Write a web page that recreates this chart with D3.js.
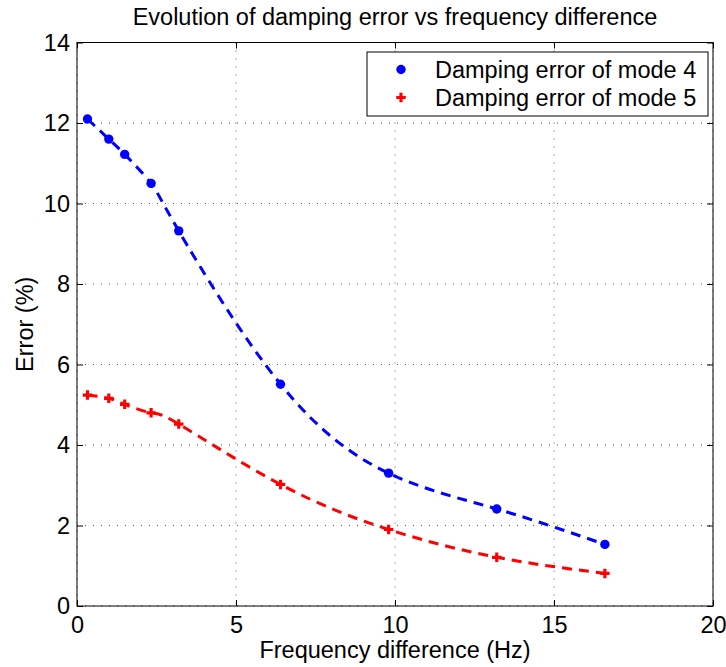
<!DOCTYPE html>
<html>
<head>
<meta charset="utf-8">
<script src="https://cdn.jsdelivr.net/npm/d3@7"></script>
<style>
  body { margin: 0; background: #fff; }
  text { font-family: "Liberation Sans", Arial, sans-serif; fill: #000; }
</style>
</head>
<body>
<svg id="chart" width="726" height="667"></svg>
<script>
// values
var freqDiff = [0.33, 1.0, 1.5, 2.33, 3.2, 6.4, 9.8, 13.2, 16.6];
var errMode4 = [12.1, 11.6, 11.22, 10.5, 9.32, 5.51, 3.3, 2.41, 1.53];
var errMode5 = [5.24, 5.16, 5.01, 4.8, 4.52, 3.02, 1.9, 1.21, 0.81];
var xTicks = [0, 5, 10, 15, 20];
var yTicks = [0, 2, 4, 6, 8, 10, 12, 14];
var seriesNames = ['Damping error of mode 4', 'Damping error of mode 5'];

var fontSize = '23.5px';

var svg = d3.select('#chart');
var margin = {top: 42.5, right: 13, bottom: 61, left: 77},
    width = 726 - margin.left - margin.right,
    height = 667 - margin.top - margin.bottom;

var g = svg.append('g')
    .attr('transform', 'translate(' + margin.left + ',' + margin.top + ')');

var x = d3.scaleLinear().domain([0, 20]).range([0, width]);
var y = d3.scaleLinear().domain([0, 14]).range([height, 0]);

// grid
g.selectAll('.gx').data(xTicks).enter().append('line')
    .attr('x1', function(d) { return x(d); }).attr('x2', function(d) { return x(d); })
    .attr('y1', 0).attr('y2', height)
    .attr('stroke', '#555').attr('stroke-width', 1).attr('stroke-dasharray', '1,7');
g.selectAll('.gy').data(yTicks).enter().append('line')
    .attr('y1', function(d) { return y(d); }).attr('y2', function(d) { return y(d); })
    .attr('x1', 0).attr('x2', width)
    .attr('stroke', '#555').attr('stroke-width', 1).attr('stroke-dasharray', '1,7');

// axes, ticks pointing inward like matlab
var tickLen = 6;
g.append('g').attr('transform', 'translate(0,' + height + ')')
    .call(d3.axisBottom(x).tickValues(xTicks).tickSizeInner(-tickLen).tickSizeOuter(0).tickPadding(10));
g.append('g')
    .call(d3.axisLeft(y).tickValues(yTicks).tickSizeInner(-tickLen).tickSizeOuter(0).tickPadding(7));
g.append('g')
    .call(d3.axisTop(x).tickValues(xTicks).tickSizeInner(-tickLen).tickSizeOuter(0).tickFormat(''));
g.append('g').attr('transform', 'translate(' + width + ',0)')
    .call(d3.axisRight(y).tickValues(yTicks).tickSizeInner(-tickLen).tickSizeOuter(0).tickFormat(''));

g.selectAll('.domain').remove();
g.selectAll('.tick line').attr('stroke', '#000');
g.selectAll('.tick text').style('font-size', fontSize).attr('fill', '#000');

g.append('rect')
    .attr('width', width).attr('height', height)
    .attr('fill', 'none').attr('stroke', '#000').attr('stroke-width', 1);

// curves
var line = d3.line().curve(d3.curveNatural)
    .x(function(d) { return x(d[0]); })
    .y(function(d) { return y(d[1]); });

var data4 = d3.zip(freqDiff, errMode4),
    data5 = d3.zip(freqDiff, errMode5);

g.append('path').datum(data4).attr('d', line)
    .attr('fill', 'none').attr('stroke', '#0000ff').attr('stroke-width', 3)
    .attr('stroke-dasharray', '10,7');
g.append('path').datum(data5).attr('d', line)
    .attr('fill', 'none').attr('stroke', '#ff0000').attr('stroke-width', 3)
    .attr('stroke-dasharray', '10,7');

g.selectAll('.dot4').data(data4).enter().append('circle')
    .attr('cx', function(d) { return x(d[0]); })
    .attr('cy', function(d) { return y(d[1]); })
    .attr('r', 4.7).attr('fill', '#0000ff');

var plus = d3.symbol().type(d3.symbolCross).size(50);
g.selectAll('.dot5').data(data5).enter().append('path')
    .attr('transform', function(d) { return 'translate(' + x(d[0]) + ',' + y(d[1]) + ')'; })
    .attr('d', plus).attr('fill', '#ff0000');

// legend
var leg = svg.append('g').attr('transform', 'translate(367,52)');
leg.append('rect').attr('width', 341).attr('height', 64)
    .attr('fill', '#fff').attr('stroke', '#000').attr('stroke-width', 1);
leg.append('circle').attr('cx', 34).attr('cy', 17.5).attr('r', 4.7).attr('fill', '#0000ff');
leg.append('path').attr('transform', 'translate(34,45.5)').attr('d', plus).attr('fill', '#ff0000');
leg.selectAll('.lt').data(seriesNames).enter().append('text')
    .attr('x', 68)
    .attr('y', function(d, i) { return 26 + i * 28; })
    .style('font-size', fontSize)
    .text(function(d) { return d; });

// titles
svg.append('text')
    .attr('x', margin.left + width / 2).attr('y', 25)
    .attr('text-anchor', 'middle').style('font-size', fontSize)
    .text('Evolution of damping error vs frequency difference');
svg.append('text')
    .attr('x', margin.left + width / 2).attr('y', 658)
    .attr('text-anchor', 'middle').style('font-size', fontSize)
    .text('Frequency difference (Hz)');
svg.append('text')
    .attr('transform', 'translate(33,' + (margin.top + height / 2) + ') rotate(-90)')
    .attr('text-anchor', 'middle').style('font-size', fontSize)
    .text('Error (%)');
</script>
</body>
</html>
